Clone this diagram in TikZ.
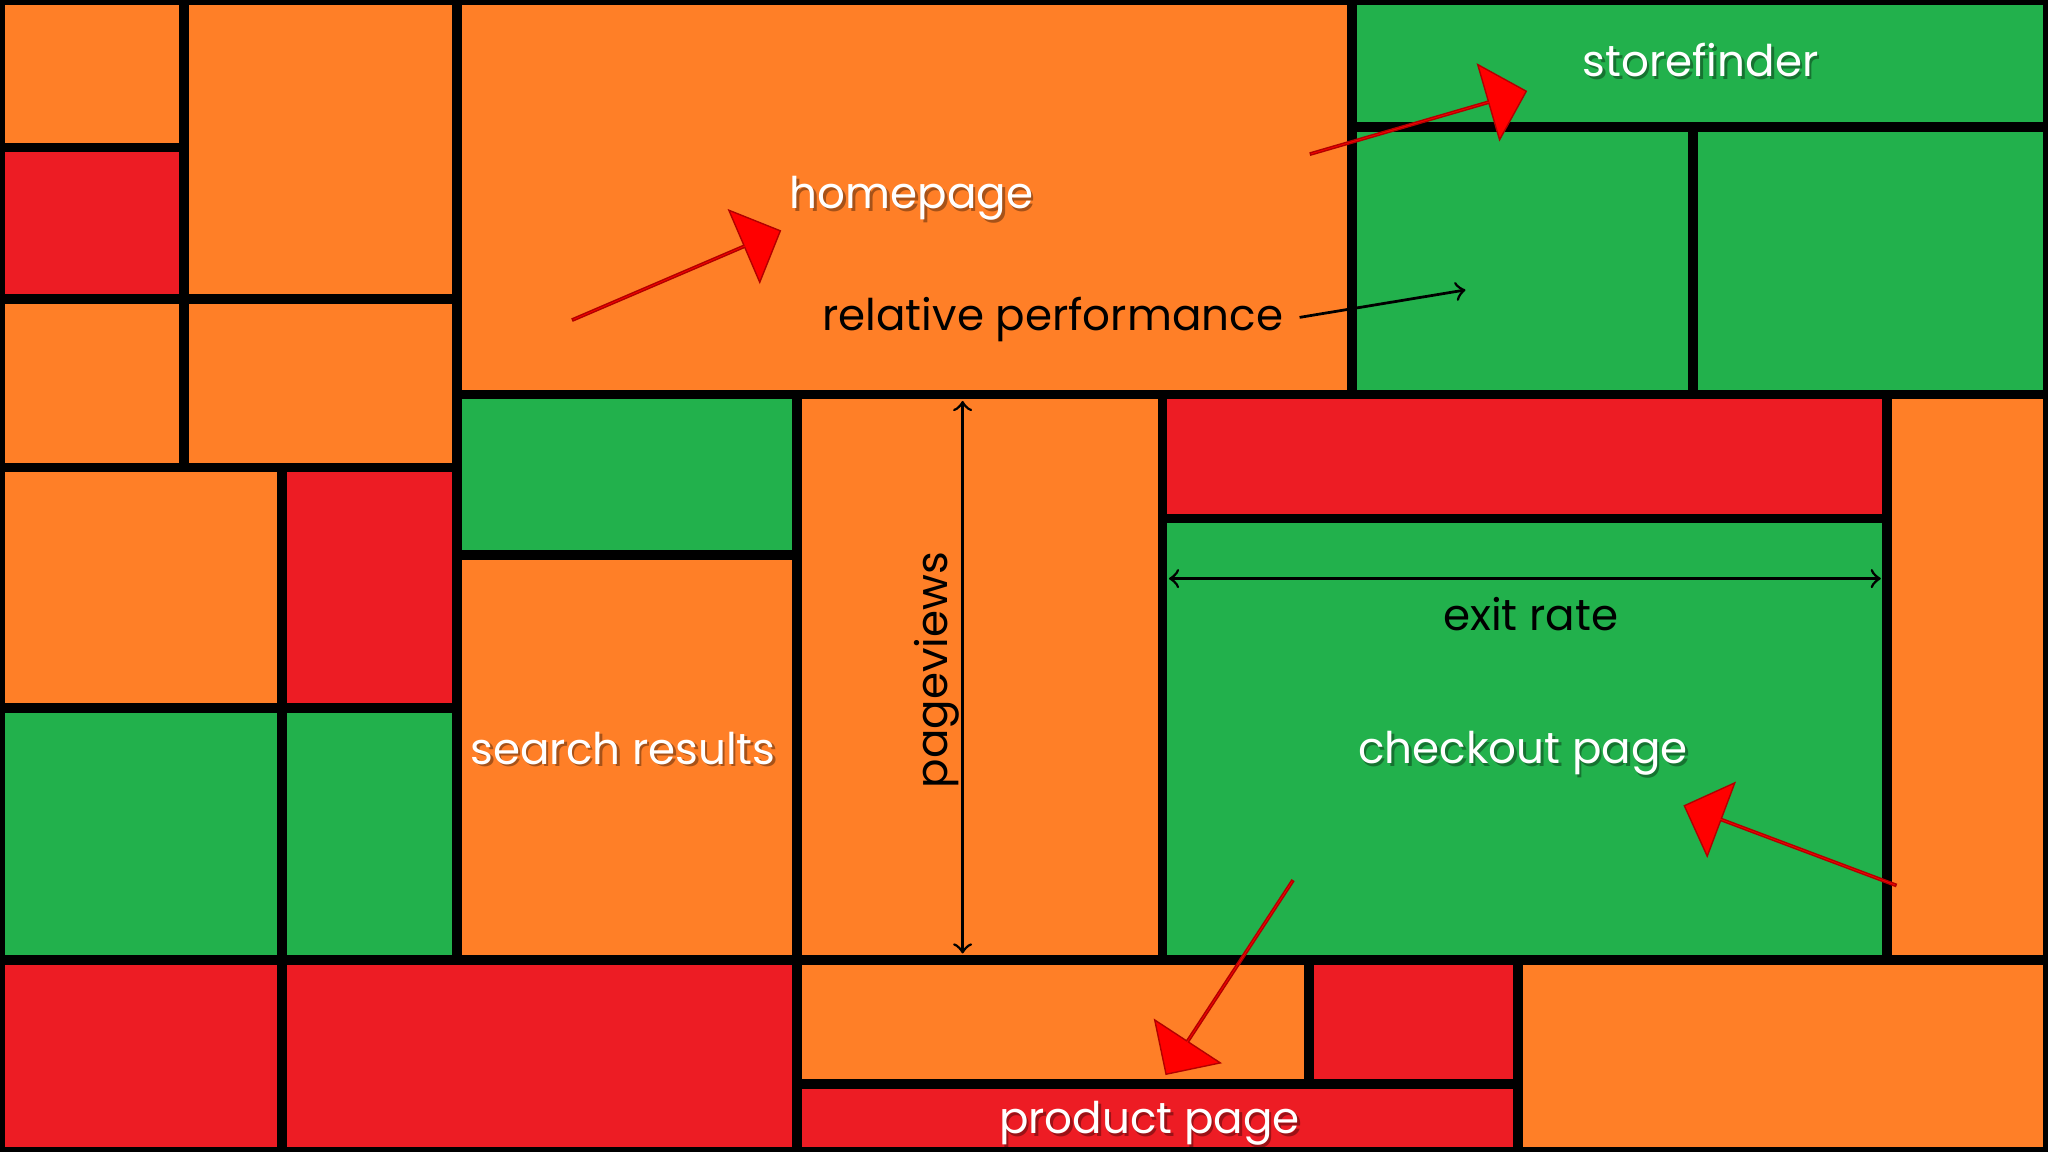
\documentclass[tikz,border=0pt]{standalone}
\usepackage{fontspec}
\setmainfont{Poppins}
\usetikzlibrary{shapes.arrows}
\definecolor{cor}{HTML}{FF7F27}
\definecolor{cre}{HTML}{ED1C24}
\definecolor{cgr}{HTML}{22B14C}
\tikzset{
 cell/.style={draw=black,line width=0.075cm},
 wtxt/.style={text=white,font=\fontsize{9.5}{11}\selectfont},
 shd/.style={text=black,opacity=0.35,font=\fontsize{9.5}{11}\selectfont},
 btxt/.style={text=black,font=\fontsize{9.5}{11}\selectfont},
 fat/.style={single arrow,fill=red,draw=red!70!black,line width=0.3pt,inner sep=0pt,minimum width=0.6cm,single arrow head extend=0.17cm,single arrow head indent=0cm},
 thin/.style={line width=0.6pt}
}
\begin{document}
\begin{tikzpicture}[x=0.01cm,y=-0.01cm]
\useasboundingbox (0,0) rectangle (1568,882);
\fill[black] (0,0) rectangle (1568,882);
\foreach \a/\b/\c/\d/\col in {
0/0/141/113/cor, 0/113/141/229/cre, 141/0/350/229/cor, 0/229/141/358/cor, 141/229/350/358/cor,
0/358/216/542/cor, 216/358/350/542/cre, 0/542/216/735/cgr, 216/542/350/735/cgr,
0/735/216/882/cre, 216/735/610/882/cre,
350/0/1035/302/cor, 1035/0/1568/97/cgr, 1035/97/1296/302/cgr, 1296/97/1568/302/cgr,
350/302/610/425/cgr, 350/425/610/735/cor, 610/302/890/735/cor, 890/302/1445/397/cre,
890/397/1445/735/cgr, 1445/302/1568/735/cor,
610/735/1002/830/cor, 1002/735/1162/830/cre, 610/830/1162/882/cre, 1162/735/1568/882/cor}
{\filldraw[cell,fill=\col] (\a,\b) rectangle (\c,\d);}
% white labels with shadow
\foreach \n/\x/\y/\t in {h/698/152/homepage, s/1302/46/storefinder, sr/477/573/search results, c/1166/577/checkout page, p/880/860/product page}{
 \node[shd] (\n s) at (\x+2,\y+2) {\t};
 \node[wtxt] (\n) at (\x,\y) {\t};
}
\node[btxt] (rp) at (806,245) {relative performance};
\node[btxt] (er) at (1172,470) {exit rate};
\node[btxt,rotate=90] (pv) at (717,513) {pageviews};
\coordinate (rpa) at (995,243); \coordinate (rpb) at (1122,222);
\draw[thin,->] (rpa) -- (rpb);
\coordinate (pva) at (737,307); \coordinate (pvb) at (737,730);
\draw[thin,<->] (pva) -- (pvb);
\coordinate (era) at (895,443); \coordinate (erb) at (1440,443);
\draw[thin,<->] (era) -- (erb);
\node[fat,rotate=23.2,minimum height=1.73cm] (a1) at (517.5,211) {};
\node[fat,rotate=16.2,minimum height=1.72cm] (a2) at (1085.5,94) {};
\node[fat,rotate=159.4,minimum height=1.73cm] (a3) at (1371,647.5) {};
\node[fat,rotate=236.8,minimum height=1.77cm] (a4) at (941.5,748) {};
\end{tikzpicture}
\end{document}
